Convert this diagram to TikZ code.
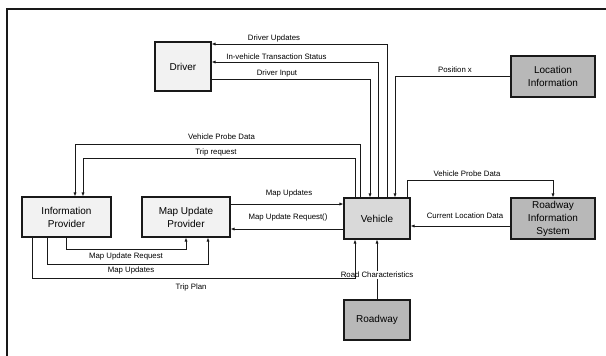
\documentclass[tikz,border=0pt]{standalone}
\usepackage{fontspec}
\setmainfont{Liberation Sans}
\usepackage{xcolor}
\usepackage{tikz}
\usetikzlibrary{arrows.meta,positioning,calc}
\definecolor{scangray}{gray}{0.10}
\tikzset{
  box/.style={draw=scangray,line width=1.1pt,inner sep=0pt,align=center,
    font=\fontsize{10}{13}\selectfont},
  boxlight/.style={box,fill=black!5},
  boxmid/.style={box,fill=black!15},
  boxdark/.style={box,fill=black!28},
  flow/.style={draw=scangray,line width=0.8pt,-{Latex[length=4pt,width=3.2pt]}},
  plainln/.style={draw=scangray,line width=0.8pt},
  lbl/.style={font=\fontsize{7.8}{9}\selectfont,inner sep=1pt},
  frameln/.style={draw=scangray,line width=1.2pt},
}
\begin{document}
\begin{tikzpicture}[x=1pt,y=-1pt]
  \useasboundingbox (0,0) rectangle (606,356);
  % frame (left and top only)
  \draw[frameln] (7,356) -- (7,9) -- (606,9);
  % boxes
  \node[boxlight,minimum width=56,minimum height=49] (drv) at (183,66.5) {Driver};
  \node[boxdark,minimum width=84,minimum height=41] (loc) at (553,76.5) {Location\\Information};
  \node[boxlight,minimum width=89,minimum height=40] (inf) at (66.5,217) {Information\\Provider};
  \node[boxlight,minimum width=88,minimum height=40] (mup) at (186,217) {Map Update\\Provider};
  \node[boxmid,minimum width=66,minimum height=41] (veh) at (377,218.5) {Vehicle};
  \node[boxdark,minimum width=84,minimum height=41] (ris) at (553,218.5) {Roadway\\Information\\System};
  \node[boxdark,minimum width=66,minimum height=40] (rdw) at (377,320) {Roadway};
  % vehicle <-> driver
  \draw[flow] ([xshift=10]veh.north) |- ([yshift=22.5]drv.east);
  \draw[flow] ([xshift=1]veh.north) |- ([yshift=4.5]drv.east);
  \draw[flow] ([yshift=-13]drv.east) -| ([xshift=-7]veh.north);
  \node[lbl] (dupd) at (274,38) {Driver Updates};
  \node[lbl] (ivts) at (276.5,57) {In-vehicle Transaction Status};
  \node[lbl] (dinp) at (277,73) {Driver Input};
  % location information -> vehicle
  \draw[flow] (loc.west) -| ([xshift=18]veh.north);
  \node[lbl] (posx) at (455,70) {Position x};
  % vehicle -> information provider
  \coordinate (vpdL) at (75,144);
  \coordinate (trqL) at (83,158);
  \draw[flow] ([xshift=-17]veh.north) |- (vpdL) -- (vpdL |- inf.north);
  \draw[flow] ([xshift=-22]veh.north) |- (trqL) -- (trqL |- inf.north);
  \node[lbl] (vpdl) at (221.5,137) {Vehicle Probe Data};
  \node[lbl] (trq) at (216,152) {Trip request};
  % map update provider <-> vehicle
  \coordinate (muA) at ([yshift=14.5]veh.west);
  \coordinate (muB) at ([yshift=-10.5]veh.west);
  \draw[flow] (muA -| mup.east) -- (muA);
  \draw[flow] (muB) -- (muB -| mup.east);
  \node[lbl] (mupd) at (289,193) {Map Updates};
  \node[lbl] (mureq) at (288,217) {Map Update Request()};
  % information provider -> map update provider, vehicle
  \draw[flow] (inf.south) -- ++(0,12) -| (mup.south);
  \draw[flow] ([xshift=-19]inf.south) -- ++(0,27) -| ([xshift=22]mup.south);
  \draw[flow] ([xshift=-34]inf.south) -- ++(0,41) -| ([xshift=-22]veh.south);
  \node[lbl] (mureqb) at (126,256) {Map Update Request};
  \node[lbl] (mupdb) at (131,270) {Map Updates};
  \node[lbl] (tplan) at (191,287) {Trip Plan};
  % roadway -> vehicle, broken by its label
  \node[lbl] (rchar) at (377,275) {Road Characteristics};
  \draw[plainln] (rdw.north) -- (rchar);
  \draw[flow] (rchar) -- (veh.south);
  % roadway information system <-> vehicle
  \coordinate (cld) at ([yshift=-7.5]ris.west);
  \draw[flow] (cld) -- (cld -| veh.east);
  \draw[flow] ([xshift=30]veh.north) -- ++(0,-17) -| (ris.north);
  \node[lbl] (cldat) at (465,216) {Current Location Data};
  \node[lbl] (vpdr) at (467,174) {Vehicle Probe Data};
\end{tikzpicture}
\end{document}
